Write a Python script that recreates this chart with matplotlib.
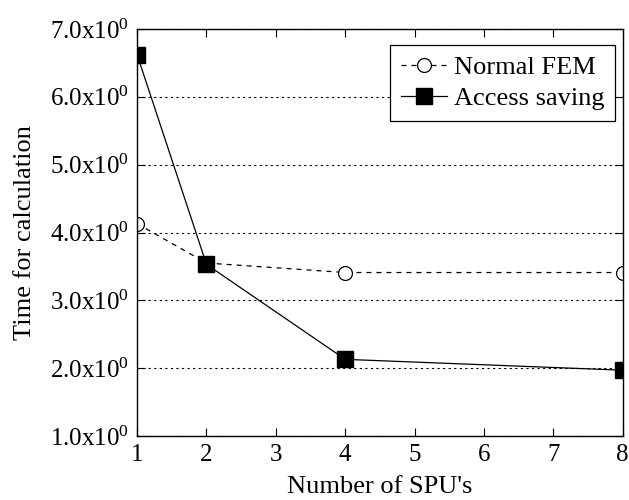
import matplotlib
matplotlib.use("Agg")
import matplotlib.pyplot as plt
from matplotlib.ticker import FuncFormatter

plt.rcParams['font.family'] = ['Liberation Serif', 'DejaVu Serif']
plt.rcParams['mathtext.default'] = 'regular'

spus = [1, 2, 4, 8]
normal_fem = [4.13, 3.55, 3.41, 3.41]
access_saving = [6.62, 3.53, 2.13, 1.97]
y_ticks = [1, 2, 3, 4, 5, 6, 7]
x_ticks = [1, 2, 3, 4, 5, 6, 7, 8]

fig = plt.figure(figsize=(6.29, 5.0), dpi=100)
ax = fig.add_axes([0.218, 0.128, 0.772, 0.814])

ax.plot(spus, normal_fem, color='black', lw=0.9, ls=(0, (4, 4)),
        marker='o', ms=10, mfc='white', mec='black', mew=0.9,
        label='Normal FEM')
ax.plot(spus, access_saving, color='black', lw=0.9, ls='-',
        marker='s', ms=12, mfc='black', mec='black',
        label='Access saving')

ax.set_xlim(1, 8)
ax.set_ylim(1, 7)
ax.set_xticks(x_ticks)
ax.set_yticks(y_ticks)
ax.yaxis.set_major_formatter(FuncFormatter(lambda v, p: '%.1fx10$^{0}$' % v))

ax.grid(axis='y', color='black', ls=(0, (2, 3)), lw=0.8)
ax.tick_params(direction='in', top=True, right=True, length=6,
               labelsize=18, pad=6, width=0.8)
for s in ax.spines.values():
    s.set_linewidth(1.0)
    s.set_color('black')

ax.set_xlabel("Number of SPU's", fontsize=19, labelpad=7)
ax.set_ylabel('Time for calculation', fontsize=19, labelpad=10)

leg = ax.legend(loc='upper right', bbox_to_anchor=(0.9835, 0.9607),
                fontsize=19, fancybox=False, edgecolor='black',
                framealpha=1, handlelength=1.75, borderpad=0.4,
                labelspacing=0.3, handletextpad=0.25, borderaxespad=0)
leg.get_frame().set_linewidth(0.9)

fig.savefig('out.png', dpi=100)
